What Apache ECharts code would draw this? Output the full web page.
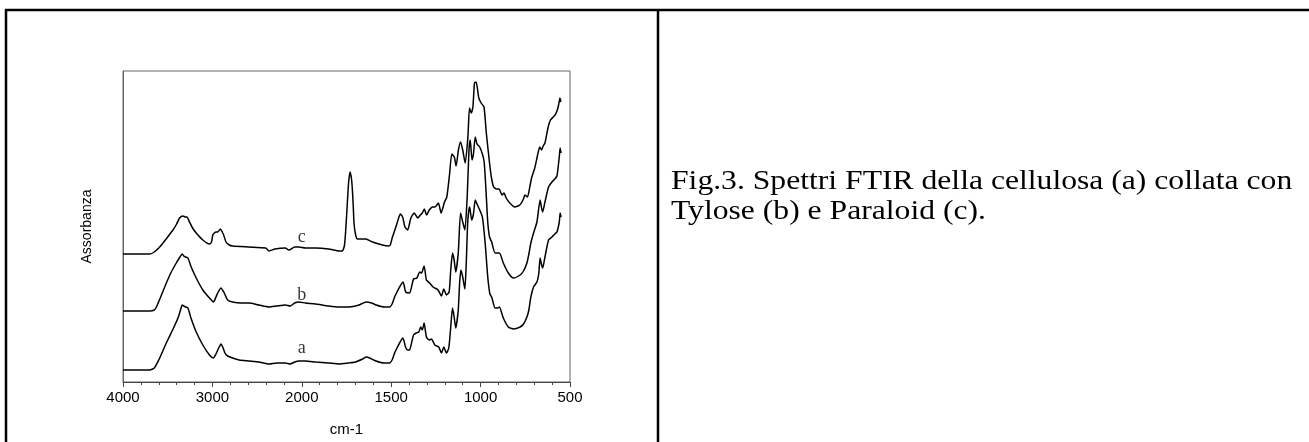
<!DOCTYPE html>
<html>
<head>
<meta charset="utf-8">
<script src="https://cdn.jsdelivr.net/npm/echarts@6/dist/echarts.min.js"></script>
<style>
  html, body { margin: 0; padding: 0; background: #fff; }
  #chart { width: 1309px; height: 442px; }
</style>
</head>
<body>
<div id="chart"></div>
<script>
// spettri FTIR: numero d'onda (cm-1) e assorbanza (unità arbitrarie)
const aWave = [4000, 3800, 3700, 3650, 3600, 3550, 3500, 3440, 3385, 3360, 3337, 3320, 3300, 3274, 3240, 3181, 3107, 3033, 2989, 2960, 2930, 2904, 2880, 2860, 2830, 2774, 2700, 2589, 2480, 2367, 2280, 2185, 2130, 2080, 2033, 1980, 1923, 1850, 1792, 1740, 1700, 1660, 1640, 1620, 1585, 1540, 1510, 1495, 1481, 1465, 1453, 1435, 1428, 1420, 1408, 1397, 1385, 1375, 1360, 1346, 1335, 1326, 1316, 1303, 1288, 1275, 1256, 1234, 1219, 1206, 1191, 1178, 1167, 1157, 1148, 1139, 1125, 1117, 1110, 1100, 1088, 1080, 1072, 1062, 1058, 1050, 1040, 1030, 1020, 1005, 990, 975, 960, 948, 938, 919, 905, 895, 873, 845, 816, 779, 760, 741, 730, 719, 704, 685, 675, 667, 660, 653, 640, 620, 601, 585, 573, 560, 555, 550];
const aAbs = [12, 12, 12, 14, 22, 32, 42, 53, 64, 71, 77, 76, 75, 74, 64, 50, 37, 27, 24, 28, 34, 38, 34, 29, 26, 24, 22, 21, 20, 18, 19, 19, 18, 20, 21, 21, 20, 19, 18, 19, 20, 23, 25, 24, 21, 19, 19, 22, 29, 35, 39, 44, 41, 35, 32, 32, 40, 47, 49, 50, 55, 52, 59, 45, 42, 43, 37, 35, 29, 35, 29, 34, 55, 74, 65, 54, 72, 100, 112, 105, 93, 120, 160, 175, 172, 162, 168, 182, 178, 172, 165, 140, 105, 88, 85, 74, 74, 75, 64, 55, 53, 55, 58, 65, 72, 85, 95, 100, 108, 124, 118, 114, 125, 142, 145, 148, 150, 160, 169, 165];

const bWave = [4000, 3800, 3700, 3650, 3626, 3570, 3515, 3460, 3404, 3370, 3337, 3320, 3300, 3274, 3237, 3181, 3107, 3033, 2989, 2960, 2941, 2904, 2880, 2867, 2830, 2774, 2680, 2589, 2480, 2367, 2280, 2185, 2130, 2080, 2033, 1980, 1923, 1850, 1792, 1740, 1700, 1680, 1640, 1610, 1584, 1540, 1509, 1495, 1481, 1465, 1453, 1434, 1428, 1419, 1397, 1385, 1375, 1356, 1341, 1330, 1316, 1303, 1285, 1266, 1238, 1219, 1206, 1191, 1176, 1167, 1157, 1148, 1139, 1125, 1112, 1100, 1088, 1075, 1065, 1058, 1048, 1040, 1030, 1020, 1005, 990, 980, 970, 960, 950, 938, 919, 895, 873, 845, 816, 779, 760, 741, 730, 719, 704, 685, 667, 660, 653, 640, 620, 601, 585, 573, 560, 555, 550];
const bAbs = [71, 71, 71, 72, 75, 87, 99, 110, 119, 124, 128, 126, 125, 124, 115, 104, 92, 84, 80, 85, 89, 94, 91, 89, 82, 80, 79, 79, 77, 75, 76, 77, 76, 79, 80, 79, 78, 76, 75, 75, 76, 77, 80, 79, 77, 75, 75, 78, 85, 91, 95, 100, 97, 90, 89, 96, 103, 104, 110, 109, 116, 102, 99, 95, 92, 86, 93, 87, 90, 112, 129, 122, 110, 129, 169, 160, 152, 185, 232, 242, 222, 228, 245, 238, 235, 228, 220, 192, 160, 145, 140, 129, 129, 119, 109, 104, 107, 111, 119, 128, 139, 149, 160, 182, 175, 170, 180, 195, 200, 203, 206, 225, 234, 229];

const cWave = [4000, 3800, 3700, 3650, 3600, 3552, 3500, 3441, 3400, 3367, 3330, 3300, 3285, 3256, 3222, 3181, 3107, 3033, 3010, 2996, 2978, 2960, 2941, 2911, 2890, 2874, 2848, 2811, 2774, 2600, 2404, 2367, 2300, 2185, 2144, 2080, 2033, 1980, 1923, 1850, 1790, 1774, 1762, 1755, 1745, 1738, 1730, 1722, 1717, 1712, 1708, 1700, 1689, 1660, 1642, 1605, 1549, 1515, 1505, 1493, 1474, 1460, 1449, 1436, 1423, 1408, 1390, 1371, 1352, 1337, 1326, 1315, 1302, 1287, 1268, 1255, 1236, 1221, 1202, 1189, 1174, 1161, 1147, 1137, 1124, 1112, 1100, 1086, 1071, 1062, 1052, 1043, 1034, 1025, 1010, 997, 981, 968, 950, 940, 927, 912, 897, 880, 869, 857, 837, 809, 781, 760, 753, 738, 725, 715, 697, 680, 669, 659, 650, 640, 622, 609, 584, 575, 565, 556, 551];
const cAbs = [128, 128, 128, 130, 134, 139, 145, 152, 158, 164, 166, 165, 165, 160, 154, 149, 142, 138, 140, 147, 149, 150, 150, 153, 150, 147, 140, 137, 136, 135, 134, 131, 133, 134, 132, 135, 135, 134, 134, 133, 131, 131, 136, 150, 180, 200, 210, 203, 192, 175, 159, 148, 143, 143, 143, 140, 137, 136, 137, 145, 155, 163, 168, 165, 155, 152, 164, 169, 164, 167, 169, 173, 167, 172, 175, 175, 179, 169, 180, 185, 207, 228, 225, 216, 232, 240, 232, 219, 245, 274, 269, 275, 299, 300, 284, 279, 275, 249, 219, 205, 195, 193, 193, 187, 189, 184, 179, 175, 177, 183, 187, 185, 195, 204, 214, 228, 235, 232, 236, 239, 255, 262, 267, 270, 276, 284, 280];

// etichette delle curve
const curveNames = ['a', 'b', 'c'];
const labelWave = [2000, 2000, 2000];
const labelAbs = [34, 87, 145];

const xTickLabels = [4000, 3000, 2000, 1500, 1000, 500];

// asse con cambio di scala a 2000 cm-1 (sopra 2000 compresso a metà)
const toPos = w => (w > 2000 ? 2000 + (w - 2000) / 2 : w);
const fromPos = p => (p > 2000 ? 2000 + (p - 2000) * 2 : p);

const toSeries = (wave, abs) => wave.map((w, i) => [toPos(w), abs[i]]);

const chart = echarts.init(document.getElementById('chart'));

const lineStyle = { color: '#000', width: 1.5 };

const option = {
  animation: false,
  grid: {
    left: 123,
    right: 739,
    top: 71,
    bottom: 60,
    show: true,
    borderColor: '#666',
    borderWidth: 1
  },
  xAxis: {
    type: 'value',
    inverse: true,
    min: 500,
    max: 3000,
    interval: 500,
    name: 'cm-1',
    nameLocation: 'middle',
    nameGap: 40,
    nameTextStyle: { fontFamily: 'Liberation Sans', fontSize: 15, color: '#000' },
    axisLine: { show: true, lineStyle: { color: '#444', width: 1 } },
    axisTick: { show: true, length: 5, lineStyle: { color: '#444' } },
    minorTick: { show: true, splitNumber: 5, length: 3, lineStyle: { color: '#444' } },
    splitLine: { show: false },
    axisLabel: {
      margin: 8,
      fontFamily: 'Liberation Sans',
      fontSize: 15,
      color: '#000',
      formatter: v => {
        const w = fromPos(v);
        return xTickLabels.includes(w) ? String(w) : '';
      }
    }
  },
  yAxis: {
    type: 'value',
    min: 0,
    max: 311,
    name: 'Assorbanza',
    nameLocation: 'middle',
    nameGap: 29,
    nameRotate: 90,
    nameTextStyle: { fontFamily: 'Liberation Sans', fontSize: 14, color: '#000' },
    axisLine: { show: true, lineStyle: { color: '#666' } },
    axisTick: { show: false },
    axisLabel: { show: false },
    splitLine: { show: false }
  },
  series: [
    { name: 'a', type: 'line', data: toSeries(aWave, aAbs), showSymbol: false, smooth: 0.2, lineStyle },
    { name: 'b', type: 'line', data: toSeries(bWave, bAbs), showSymbol: false, smooth: 0.2, lineStyle },
    { name: 'c', type: 'line', data: toSeries(cWave, cAbs), showSymbol: false, smooth: 0.2, lineStyle },
    {
      name: 'etichette',
      type: 'scatter',
      symbolSize: 0,
      data: curveNames.map((n, i) => ({ value: [toPos(labelWave[i]), labelAbs[i]], name: n })),
      label: {
        show: true,
        position: 'inside',
        formatter: p => p.name,
        fontFamily: 'Liberation Serif',
        fontSize: 18,
        color: '#000'
      }
    }
  ],
  graphic: [
    { type: 'line', shape: { x1: 5, y1: 10, x2: 1309, y2: 10 }, style: { stroke: '#000', lineWidth: 2.5 } },
    { type: 'line', shape: { x1: 6, y1: 9, x2: 6, y2: 442 }, style: { stroke: '#000', lineWidth: 2.5 } },
    { type: 'line', shape: { x1: 658, y1: 9, x2: 658, y2: 442 }, style: { stroke: '#000', lineWidth: 2.5 } },
    {
      type: 'text', x: 671, y: 168, scaleX: 1.13,
      style: { text: 'Fig.3. Spettri FTIR della cellulosa (a) collata con', font: '28px "Liberation Serif"', fill: '#000' }
    },
    {
      type: 'text', x: 671, y: 198, scaleX: 1.13,
      style: { text: 'Tylose (b) e Paraloid (c).', font: '28px "Liberation Serif"', fill: '#000' }
    }
  ]
};

chart.setOption(option);
</script>
</body>
</html>
